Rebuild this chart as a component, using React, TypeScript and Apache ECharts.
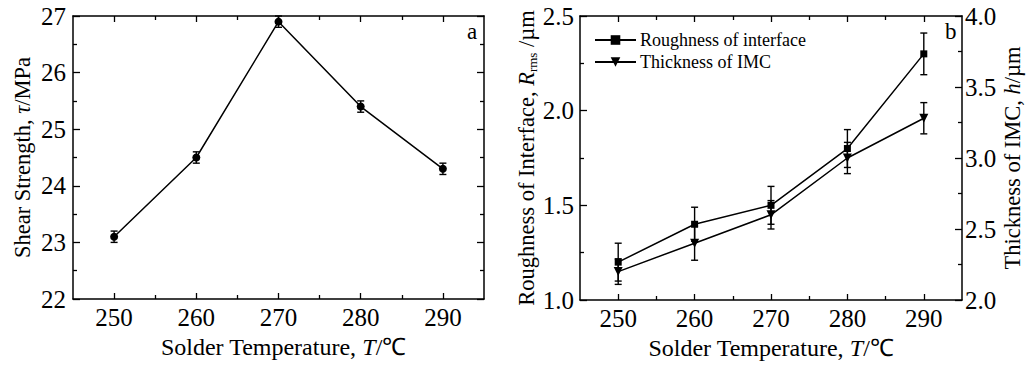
import React, { useEffect, useRef } from "react";
import * as echarts from "echarts";

const temps = [250, 260, 270, 280, 290];
const shearStrength = [23.1, 24.5, 26.9, 25.4, 24.3];
const shearErr = [0.1, 0.1, 0.1, 0.1, 0.1];
const roughness = [1.2, 1.4, 1.5, 1.8, 2.3];
const roughnessErr = [0.1, 0.09, 0.1, 0.1, 0.11];
const thickness = [2.2, 2.4, 2.6, 3.0, 3.28];
const thicknessErr = [0.09, 0.12, 0.1, 0.11, 0.11];
const xMajorTicks = [250, 260, 270, 280, 290];
const xMinorTicks = [255, 265, 275, 285];

const FONT = "Liberation Serif";
const BLACK = "#000";
const TICK_FS = 25;
const NAME_FS = 24;
const YNAME_FS = 22.5;

function errorBarSeries(xIdx: number, yIdx: number, values: number[], errs: number[]) {
  return {
    type: "custom",
    xAxisIndex: xIdx,
    yAxisIndex: yIdx,
    silent: true,
    z: 3,
    data: temps.map((t, i) => [t, values[i] - errs[i], values[i] + errs[i]]),
    renderItem: (_params: any, api: any) => {
      const x = api.value(0);
      const lo = api.coord([x, api.value(1)]);
      const hi = api.coord([x, api.value(2)]);
      const w = 3.5;
      const style = { stroke: BLACK, lineWidth: 1.4 };
      return {
        type: "group",
        children: [
          { type: "line", shape: { x1: lo[0], y1: lo[1], x2: hi[0], y2: hi[1] }, style },
          { type: "line", shape: { x1: lo[0] - w, y1: lo[1], x2: lo[0] + w, y2: lo[1] }, style },
          { type: "line", shape: { x1: hi[0] - w, y1: hi[1], x2: hi[0] + w, y2: hi[1] }, style },
        ],
      };
    },
  };
}

function xAxes(grid: number, nameGap: number, namePad: number[]) {
  const base = { type: "value", gridIndex: grid, min: 245, max: 295, interval: 5, splitLine: { show: false } };
  return [
    {
      ...base,
      position: "bottom",
      name: "Solder Temperature, {i|T}/℃",
      nameLocation: "middle",
      nameGap,
      nameTextStyle: {
        fontFamily: FONT, fontSize: NAME_FS, color: BLACK, padding: namePad,
        rich: { i: { fontFamily: FONT, fontSize: NAME_FS, fontStyle: "italic", color: BLACK } },
      },
      axisLine: { show: true, onZero: false, lineStyle: { color: BLACK, width: 1.5 } },
      axisTick: { show: true, inside: true, length: 6, customValues: xMajorTicks, lineStyle: { color: BLACK, width: 1.3 } },
      axisLabel: { show: true, customValues: xMajorTicks, fontFamily: FONT, fontSize: TICK_FS, color: BLACK, margin: 6 },
    },
    {
      ...base,
      position: "bottom",
      axisLine: { show: false, onZero: false },
      axisTick: { show: true, inside: true, length: 4, customValues: xMinorTicks, lineStyle: { color: BLACK, width: 1.3 } },
      axisLabel: { show: false },
    },
    {
      ...base,
      position: "top",
      axisLine: { show: true, onZero: false, lineStyle: { color: BLACK, width: 1.5 } },
      axisTick: { show: true, inside: true, length: 6, customValues: xMajorTicks, lineStyle: { color: BLACK, width: 1.3 } },
      axisLabel: { show: false },
    },
    {
      ...base,
      position: "top",
      axisLine: { show: false, onZero: false },
      axisTick: { show: true, inside: true, length: 4, customValues: xMinorTicks, lineStyle: { color: BLACK, width: 1.3 } },
      axisLabel: { show: false },
    },
  ];
}

function yAxis(grid: number, position: string, min: number, max: number, interval: number, opts: any) {
  return {
    type: "value",
    gridIndex: grid,
    position,
    min,
    max,
    interval,
    splitLine: { show: false },
    axisLine: { show: true, onZero: false, lineStyle: { color: BLACK, width: 1.5 } },
    axisTick: { show: true, inside: true, length: 7, lineStyle: { color: BLACK, width: 1.3 } },
    minorTick: { show: true, splitNumber: 2, length: 4, lineStyle: { color: BLACK, width: 1.3 } },
    minorSplitLine: { show: false },
    ...opts,
  };
}

export default function App() {
  const ref = useRef<HTMLDivElement>(null);
  useEffect(() => {
    if (!ref.current) return;
    const chart = echarts.init(ref.current, null, { renderer: "svg" });
    const lineCommon = {
      type: "line",
      color: BLACK,
      lineStyle: { color: BLACK, width: 1.5 },
      itemStyle: { color: BLACK },
      z: 4,
    };
    chart.setOption({
      animation: false,
      backgroundColor: "#fff",
      textStyle: { fontFamily: FONT },
      grid: [
        { left: 73, top: 16, width: 411, height: 283 },
        { left: 580, top: 16, width: 382, height: 284 },
      ],
      xAxis: [...xAxes(0, 34, [0, 0, 0, 10]), ...xAxes(1, 34, [0, 0, 0, 0])],
      yAxis: [
        yAxis(0, "left", 22, 27, 1, {
          name: "Shear Strength, {i|τ}/MPa",
          nameLocation: "middle",
          nameGap: 39,
          nameRotate: 90,
          nameTextStyle: {
            fontFamily: FONT, fontSize: YNAME_FS, color: BLACK,
            rich: { i: { fontFamily: FONT, fontSize: YNAME_FS, fontStyle: "italic", color: BLACK } },
          },
          axisLabel: { fontFamily: FONT, fontSize: TICK_FS, color: BLACK, margin: 7 },
        }),
        yAxis(0, "right", 22, 27, 1, { axisLabel: { show: false } }),
        yAxis(1, "left", 1.0, 2.5, 0.5, {
          name: "Roughness of Interface, {i|R}{sub|rms} /µm",
          nameLocation: "middle",
          nameGap: 41,
          nameRotate: 90,
          nameTextStyle: {
            fontFamily: FONT, fontSize: YNAME_FS, color: BLACK,
            rich: {
              i: { fontFamily: FONT, fontSize: YNAME_FS, fontStyle: "italic", color: BLACK },
              sub: { fontFamily: FONT, fontSize: 13, color: BLACK, verticalAlign: "bottom", padding: [11, 0, 0, 0] },
            },
          },
          axisLabel: { fontFamily: FONT, fontSize: TICK_FS, color: BLACK, margin: 6, formatter: (v: number) => v.toFixed(1) },
        }),
        yAxis(1, "right", 2.0, 4.0, 0.5, {
          name: "Thickness of IMC, {i|h}/µm",
          nameLocation: "middle",
          nameGap: 39,
          nameRotate: 90,
          nameTextStyle: {
            fontFamily: FONT, fontSize: YNAME_FS, color: BLACK,
            rich: { i: { fontFamily: FONT, fontSize: YNAME_FS, fontStyle: "italic", color: BLACK } },
          },
          axisLabel: { fontFamily: FONT, fontSize: TICK_FS, color: BLACK, margin: 3, formatter: (v: number) => v.toFixed(1) },
        }),
      ],
      legend: {
        left: 594,
        top: 31,
        padding: 0,
        orient: "vertical",
        itemWidth: 41,
        itemHeight: 12,
        itemGap: 4,
        selectedMode: false,
        textStyle: { fontFamily: FONT, fontSize: 18, color: BLACK, padding: [0, 0, 0, -1] },
        data: ["Roughness of interface", "Thickness of IMC"],
      },
      series: [
        {
          ...lineCommon,
          name: "Shear Strength",
          xAxisIndex: 0,
          yAxisIndex: 0,
          symbol: "circle",
          symbolSize: 8,
          data: temps.map((t, i) => [t, shearStrength[i]]),
        },
        errorBarSeries(0, 0, shearStrength, shearErr),
        {
          ...lineCommon,
          name: "Roughness of interface",
          xAxisIndex: 4,
          yAxisIndex: 2,
          symbol: "rect",
          symbolSize: 7,
          data: temps.map((t, i) => [t, roughness[i]]),
        },
        errorBarSeries(4, 2, roughness, roughnessErr),
        {
          ...lineCommon,
          name: "Thickness of IMC",
          xAxisIndex: 4,
          yAxisIndex: 3,
          symbol: "triangle",
          symbolRotate: 180,
          symbolSize: 9,
          data: temps.map((t, i) => [t, thickness[i]]),
        },
        errorBarSeries(4, 3, thickness, thicknessErr),
      ],
      graphic: [
        { type: "text", left: 467, top: 20, style: { text: "a", font: `23px ${FONT}`, fill: BLACK } },
        { type: "text", left: 945, top: 20, style: { text: "b", font: `23px ${FONT}`, fill: BLACK } },
      ],
    });
    return () => chart.dispose();
  }, []);
  return (
    <div
      ref={ref}
      style={{ position: "fixed", left: 0, top: 0, width: 1026, height: 369, background: "#fff" }}
    />
  );
}
